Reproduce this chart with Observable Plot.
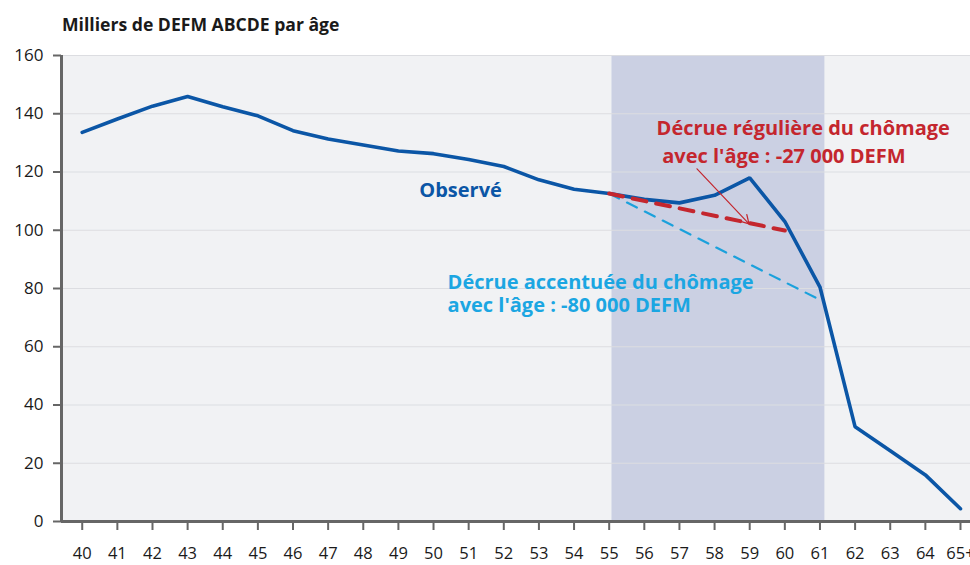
<!DOCTYPE html>
<html>
<head>
<meta charset="utf-8">
<script src="https://cdn.jsdelivr.net/npm/d3@7"></script>
<script src="https://cdn.jsdelivr.net/npm/@observablehq/plot@0.6"></script>
<style>
  html, body { margin: 0; padding: 0; background: #ffffff; }
  #wrap { width: 970px; height: 565px; position: relative; overflow: hidden; font-family: "Open Sans", sans-serif; }
  #title { position: absolute; left: 62px; top: 14px; font-size: 17.6px; font-weight: bold; color: #1a1a1a; line-height: 1.2; }
  #chart { position: absolute; left: 0; top: 40px; }
</style>
</head>
<body>
<div id="wrap">
  <div id="title">Milliers de DEFM ABCDE par âge</div>
  <div id="chart"></div>
</div>
<script>
const ages = [40,41,42,43,44,45,46,47,48,49,50,51,52,53,54,55,56,57,58,59,60,61,62,63,64,65];
const observed = [133.6,138.2,142.6,145.9,142.4,139.3,134.2,131.3,129.3,127.2,126.3,124.3,121.9,117.3,114.1,112.6,110.6,109.4,112.0,118.0,103.0,80.5,32.5,24.3,16.0,4.4];
const tickLabels = ["40","41","42","43","44","45","46","47","48","49","50","51","52","53","54","55","56","57","58","59","60","61","62","63","64","65+"];

const regularAges = [55, 60];
const regularValues = [112.6, 99.9];
const steepAges = [55, 61];
const steepValues = [112.6, 76.1];

const bandRange = [55.08, 61.14];
const yTicks = [0,20,40,60,80,100,120,140,160];

const arrowFrom = [57.5, 121.1];
const arrowTo = [58.98, 102.2];

const centeredLabels = [
  {text: "Observé", x: 50.77, y: 113.5, color: "#0b56a6"}
];
const leftLabels = [
  {text: "Décrue régulière du chômage", x: 56.35, y: 135.0, color: "#c4262e"},
  {text: "avec l'âge : -27 000 DEFM", x: 56.51, y: 125.2, color: "#c4262e"},
  {text: "Décrue accentuée du chômage", x: 50.40, y: 82.1, color: "#1ba6e2"},
  {text: "avec l'âge : -80 000 DEFM", x: 50.40, y: 74.1, color: "#1ba6e2"}
];

const obsData = ages.map((a, i) => ({age: a, v: observed[i]}));
const regData = regularAges.map((a, i) => ({age: a, v: regularValues[i]}));
const steepData = steepAges.map((a, i) => ({age: a, v: steepValues[i]}));

const chart = Plot.plot({
  width: 970,
  height: 525,
  marginLeft: 61,
  marginRight: 0,
  marginTop: 15,
  marginBottom: 44,
  style: {fontFamily: "'Open Sans', sans-serif", fontSize: "17px", color: "#1a1a1a", background: "transparent"},
  x: {domain: [39.41, 65.285]},
  y: {domain: [0, 160]},
  marks: [
    Plot.frame({fill: "#f1f2f4", stroke: null}),
    Plot.rect([{x1: bandRange[0], x2: bandRange[1]}], {x1: "x1", x2: "x2", y1: 0, y2: 160, fill: "#cbd0e3"}),
    Plot.gridY(yTicks.filter(d => d > 0), {stroke: "#dcdde1", strokeOpacity: 1, strokeWidth: 1.2}),
    Plot.axisY({ticks: yTicks, tickSize: 8, tickPadding: 10, fontSize: 17, stroke: "#666", strokeWidth: 2, label: null}),
    Plot.axisX({ticks: ages, tickFormat: (d) => tickLabels[ages.indexOf(d)], tickSize: 9, tickPadding: 17, fontSize: 16.5, stroke: "#666", strokeWidth: 2, label: null}),
    Plot.line(steepData, {x: "age", y: "v", stroke: "#1ba1dc", strokeWidth: 2.2, strokeDasharray: "11,9"}),
    Plot.line(obsData, {x: "age", y: "v", stroke: "#0b56a6", strokeWidth: 3.6, strokeLinejoin: "miter"}),
    Plot.line(regData, {x: "age", y: "v", stroke: "#c4262e", strokeWidth: 4, strokeDasharray: "14,10"}),
    Plot.ruleX([0], {x: 39.41, y1: 0, y2: 160, stroke: "#666", strokeWidth: 3}),
    Plot.ruleY([0], {stroke: "#666", strokeWidth: 3}),
    Plot.arrow([{x1: arrowFrom[0], y1: arrowFrom[1], x2: arrowTo[0], y2: arrowTo[1]}], {x1: "x1", y1: "y1", x2: "x2", y2: "y2", stroke: "#c4262e", strokeWidth: 1.2, headLength: 12}),
    Plot.text(centeredLabels, {x: "x", y: "y", text: "text", textAnchor: "middle", fill: "color", fontSize: 20, fontWeight: "bold", lineAnchor: "middle"}),
    Plot.text(leftLabels, {x: "x", y: "y", text: "text", textAnchor: "start", fill: "color", fontSize: 20, fontWeight: "bold", lineAnchor: "middle"})
  ]
});
document.getElementById("chart").appendChild(chart);
</script>
</body>
</html>
